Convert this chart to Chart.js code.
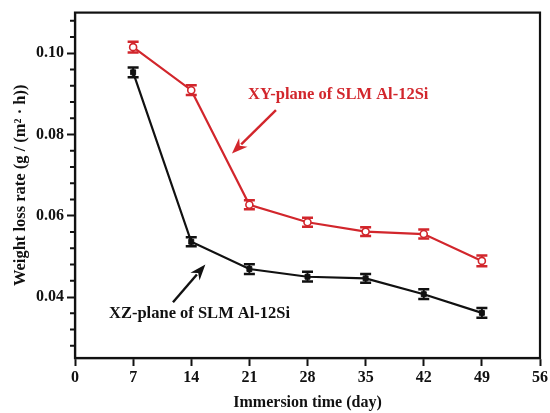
<!DOCTYPE html>
<html>
<head>
<meta charset="utf-8">
<script src="https://cdn.jsdelivr.net/npm/chart.js@4"></script>
<style>
  html, body { margin: 0; padding: 0; background: #fff; }
  #wrap { width: 550px; height: 413px; }
</style>
</head>
<body>
<div id="wrap"><canvas id="myChart" width="550" height="413"></canvas></div>
<script>
const days = [7, 14, 21, 28, 35, 42, 49];
const xyRate = [0.1015, 0.0909, 0.0627, 0.0584, 0.0561, 0.0555, 0.0489];
const xyErr = [0.0013, 0.0012, 0.0011, 0.0011, 0.0011, 0.0011, 0.0013];
const xzRate = [0.0953, 0.0536, 0.0469, 0.0450, 0.0446, 0.0407, 0.0361];
const xzErr = [0.0012, 0.0011, 0.0012, 0.0012, 0.0011, 0.0012, 0.0012];

const xTicks = [0, 7, 14, 21, 28, 35, 42, 49, 56];
const yMajor = [0.04, 0.06, 0.08, 0.10];
const yMinor = [0.028, 0.032, 0.036, 0.044, 0.048, 0.052, 0.056, 0.064, 0.068, 0.072, 0.076, 0.084, 0.088, 0.092, 0.096, 0.104, 0.108];

const red = '#d2262c';
const black = '#111111';
const font = 'Liberation Serif';

// label text, label position, arrow start, arrow tip (data units)
const notes = [
    { text: 'XY-plane of SLM Al-12Si', color: red, at: [31.7, 0.0897], from: [24.2, 0.0860], to: [18.9, 0.0753] },
    { text: 'XZ-plane of SLM Al-12Si', color: black, at: [15.0, 0.0359], from: [11.8, 0.0387], to: [15.7, 0.0480] }
];

const frame = {
    id: 'frame',
    beforeDatasetsDraw(chart) {
        const { ctx, scales: { x, y } } = chart;
        ctx.save();
        [[xyRate, xyErr, red], [xzRate, xzErr, black]].forEach(([vals, errs, col]) => {
            ctx.strokeStyle = col;
            for (let i = 0; i < days.length; i++) {
                const px = x.getPixelForValue(days[i]);
                const top = y.getPixelForValue(vals[i] + errs[i]);
                const bot = y.getPixelForValue(vals[i] - errs[i]);
                ctx.lineWidth = 2;
                ctx.beginPath();
                ctx.moveTo(px, top); ctx.lineTo(px, bot);
                ctx.stroke();
                ctx.lineWidth = 2.5;
                ctx.beginPath();
                ctx.moveTo(px - 5.5, top); ctx.lineTo(px + 5.5, top);
                ctx.moveTo(px - 5.5, bot); ctx.lineTo(px + 5.5, bot);
                ctx.stroke();
            }
        });
        ctx.restore();
    },
    afterDraw(chart) {
        const { ctx, chartArea: a, scales: { x, y } } = chart;
        ctx.save();
        ctx.strokeStyle = black;
        ctx.lineWidth = 2.2;
        ctx.strokeRect(a.left, a.top, a.right - a.left, a.bottom - a.top);

        // minor y ticks
        ctx.lineWidth = 2;
        ctx.beginPath();
        yMinor.forEach(v => {
            const py = y.getPixelForValue(v);
            ctx.moveTo(a.left - 5, py);
            ctx.lineTo(a.left, py);
        });
        ctx.stroke();

        notes.forEach(n => {
            ctx.fillStyle = n.color;
            ctx.strokeStyle = n.color;
            ctx.font = 'bold 16.5px ' + font;
            ctx.textAlign = 'center';
            ctx.textBaseline = 'middle';
            ctx.fillText(n.text, x.getPixelForValue(n.at[0]), y.getPixelForValue(n.at[1]));

            const x1 = x.getPixelForValue(n.from[0]), y1 = y.getPixelForValue(n.from[1]);
            const x2 = x.getPixelForValue(n.to[0]), y2 = y.getPixelForValue(n.to[1]);
            const ang = Math.atan2(y2 - y1, x2 - x1);
            const hl = 16, hw = 6;
            const bx = x2 - hl * Math.cos(ang), by = y2 - hl * Math.sin(ang);
            ctx.lineWidth = 2.4;
            ctx.beginPath();
            ctx.moveTo(x1, y1); ctx.lineTo(bx + 3 * Math.cos(ang), by + 3 * Math.sin(ang));
            ctx.stroke();
            ctx.beginPath();
            ctx.moveTo(x2, y2);
            ctx.lineTo(bx + hw * Math.sin(ang), by - hw * Math.cos(ang));
            ctx.lineTo(x2 - (hl - 5) * Math.cos(ang), y2 - (hl - 5) * Math.sin(ang));
            ctx.lineTo(bx - hw * Math.sin(ang), by + hw * Math.cos(ang));
            ctx.closePath();
            ctx.fill();
        });
        ctx.restore();
    }
};

const ctx = document.getElementById('myChart');

new Chart(ctx, {
    type: 'line',
    data: {
        datasets: [
            {
                label: 'XY-plane',
                data: days.map((d, i) => ({ x: d, y: xyRate[i] })),
                borderColor: red,
                borderWidth: 2.2,
                pointStyle: 'circle',
                pointRadius: 3.5,
                pointBorderWidth: 1.6,
                pointBorderColor: red,
                pointBackgroundColor: '#fff',
                tension: 0
            },
            {
                label: 'XZ-plane',
                data: days.map((d, i) => ({ x: d, y: xzRate[i] })),
                borderColor: black,
                borderWidth: 2.2,
                pointStyle: 'rect',
                pointRadius: 3.5,
                pointBorderWidth: 1,
                pointBorderColor: black,
                pointBackgroundColor: black,
                tension: 0
            }
        ]
    },
    options: {
        responsive: false,
        animation: false,
        events: [],
        layout: { padding: { left: 5, right: 9, top: 10, bottom: 0 } },
        plugins: { legend: { display: false }, tooltip: { enabled: false } },
        scales: {
            x: {
                type: 'linear',
                min: 0,
                max: 56,
                afterBuildTicks: s => { s.ticks = xTicks.map(v => ({ value: v })); },
                afterFit: s => { s.height = 413 - 358; },
                grid: { drawOnChartArea: false, tickLength: 8, tickWidth: 2, tickColor: black },
                border: { color: black, width: 2.2 },
                ticks: { color: black, padding: 2, font: { family: font, size: 16, weight: 'bold' } },
                title: {
                    display: true,
                    text: 'Immersion time (day)',
                    color: black,
                    padding: { top: 0, bottom: 1 },
                    font: { family: font, size: 16, weight: 'bold' }
                }
            },
            y: {
                min: 0.025,
                max: 0.11,
                afterBuildTicks: s => { s.ticks = yMajor.map(v => ({ value: v })); },
                afterFit: s => { s.width = 75 - 5; },
                grid: { drawOnChartArea: false, tickLength: 8, tickWidth: 2, tickColor: black },
                border: { color: black, width: 2.2 },
                ticks: {
                    color: black,
                    padding: 3,
                    font: { family: font, size: 16, weight: 'bold' },
                    callback: v => v.toFixed(2)
                },
                title: {
                    display: true,
                    text: 'Weight loss rate (g / (m\u00B2 \u00B7 h))',
                    color: black,
                    padding: { top: 6, bottom: 0 },
                    font: { family: font, size: 16.5, weight: 'bold' }
                }
            }
        }
    },
    plugins: [frame]
});
</script>
</body>
</html>
